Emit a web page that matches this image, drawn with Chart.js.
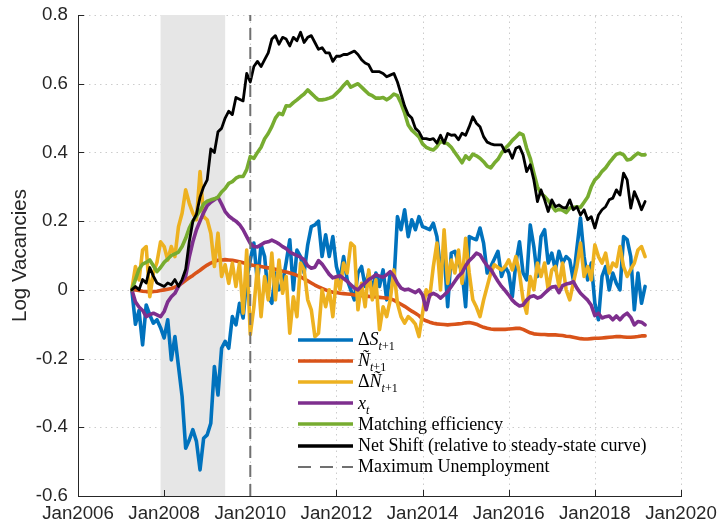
<!DOCTYPE html>
<html>
<head>
<meta charset="utf-8">
<script src="https://cdn.jsdelivr.net/npm/chart.js@4.4.1/dist/chart.umd.min.js"></script>
<style>
  body { margin: 0; background: #fff; }
  #wrap { position: relative; width: 717px; height: 529px; }
  #legend { position: absolute; left: 297px; top: 329px; font-family: 'Liberation Serif', serif; font-size: 18px; color: #000; }
  #legend .row { height: 21.2px; display: flex; align-items: center; white-space: nowrap; }
  #legend svg { width: 57px; height: 8px; margin-right: 4px; flex: none; }
  #legend sub { font-size: 12px; vertical-align: -5px; line-height: 0; }
</style>
</head>
<body>
<div id="wrap">
  <canvas id="grafico" width="717" height="529"></canvas>
  <div id="legend"></div>
</div>
<script>
// months counted from Jan 2006, series start Apr 2007
const firstMonth = 15;
const xTicks = [0, 24, 48, 72, 96, 120, 144, 168];
const yTicks = [-0.6, -0.4, -0.2, 0, 0.2, 0.4, 0.6, 0.8];
const recession = [23, 41];      // Dec 2007 - Jun 2009
const maxUnemployment = 48;      // Jan 2010

const deltaS = [
  0.0, -0.10, -0.06, -0.16, -0.044, -0.073, -0.097, -0.087, -0.11, -0.14,
  -0.087, -0.204, -0.136, -0.223, -0.31, -0.461, -0.437, -0.407, -0.441, -0.524,
  -0.432, -0.422, -0.388, -0.223, -0.306, -0.17, -0.15, -0.17, -0.078, -0.102,
  -0.039, -0.082, 0.029, 0.087, 0.136, 0.019, 0.131, 0.097, -0.02, -0.039,
  0.049, 0.0, 0.019, 0.08, 0.146, 0.0, 0.116, 0.097, 0.049, 0.131,
  0.184, 0.189, 0.2, 0.097, 0.16, 0.097, 0.155, 0.068, 0.029, 0.097,
  0.029, 0.0, -0.029, 0.049, 0.068, 0.01, 0.049, 0.0, 0.049, 0.01,
  0.058, -0.029, 0.049, 0.019, 0.213, 0.175, 0.233, 0.155, 0.204, 0.175,
  0.213, 0.184, 0.18, 0.175, 0.194, 0.155, 0.058, 0.107, -0.049, 0.107,
  0.112, 0.078, 0.053, -0.049, 0.155, 0.15, 0.146, 0.18, 0.136, 0.049,
  0.068, 0.09, 0.112, 0.039, 0.068, 0.049, -0.02, 0.078, 0.14, 0.049,
  0.029, 0.189, 0.126, 0.039, 0.155, 0.175, 0.078, 0.107, 0.058, 0.112,
  0.078, 0.097, 0.087, 0.029, 0.121, 0.209, 0.097, 0.029, 0.078, -0.039,
  -0.087, 0.039, 0.068, 0.0, 0.049, 0.019, 0.0, 0.155, 0.146, 0.097,
  -0.058, 0.049, -0.039, 0.01
];
const nTilde = [
  0.00, 0.00, -0.002, -0.004, -0.005, -0.005, -0.005, -0.004, -0.002, 0.00,
  0.002, 0.004, 0.008, 0.013, 0.02, 0.028, 0.035, 0.042, 0.05, 0.057,
  0.065, 0.072, 0.078, 0.083, 0.086, 0.087, 0.088, 0.087, 0.086, 0.084,
  0.082, 0.079, 0.076, 0.073, 0.071, 0.07, 0.068, 0.066, 0.064, 0.062,
  0.06, 0.057, 0.054, 0.052, 0.049, 0.046, 0.042, 0.038, 0.032, 0.026,
  0.02, 0.014, 0.009, 0.004, 0.00, -0.004, -0.007, -0.008, -0.01, -0.011,
  -0.012, -0.013, -0.015, -0.016, -0.017, -0.018, -0.019, -0.02, -0.021, -0.022,
  -0.023, -0.024, -0.026, -0.03, -0.036, -0.042, -0.048, -0.055, -0.062, -0.068,
  -0.075, -0.085, -0.09, -0.094, -0.097, -0.099, -0.1, -0.101, -0.102, -0.101,
  -0.1, -0.099, -0.098, -0.096, -0.095, -0.097, -0.1, -0.105, -0.109, -0.112,
  -0.114, -0.115, -0.115, -0.115, -0.115, -0.114, -0.113, -0.112, -0.112, -0.115,
  -0.12, -0.125, -0.128, -0.129, -0.13, -0.13, -0.131, -0.131, -0.131, -0.132,
  -0.133, -0.135, -0.136, -0.138, -0.14, -0.142, -0.143, -0.143, -0.142, -0.141,
  -0.141, -0.14, -0.139, -0.138, -0.137, -0.136, -0.136, -0.137, -0.138, -0.138,
  -0.137, -0.136, -0.134, -0.134
];
const deltaN = [
  0.0, 0.068, 0.029, 0.116, 0.126, -0.02, 0.049, 0.08, 0.14, 0.126,
  0.087, 0.126, 0.097, 0.184, 0.223, 0.291, 0.252, 0.223, 0.204, 0.344,
  0.213, 0.204, 0.165, 0.068, 0.165, 0.039, 0.073, 0.019, 0.078, 0.01,
  0.078, -0.068, 0.116, -0.13, -0.05, 0.068, -0.078, 0.039, -0.029, 0.107,
  -0.029, 0.087, -0.01, 0.039, -0.126, -0.02, -0.078, 0.078, 0.058, -0.029,
  -0.058, -0.136, -0.126, 0.0, -0.049, 0.0, -0.078, 0.039, 0.0, 0.078,
  0.049, 0.136, 0.126, -0.058, 0.019, -0.049, 0.058, -0.029, 0.029, -0.116,
  -0.049, -0.078, -0.029, 0.058, -0.039, -0.078, -0.097, -0.078, -0.087, -0.1,
  -0.136, -0.068, 0.0, -0.02, 0.068, 0.136, 0.0, 0.175, 0.019, 0.087,
  0.049, 0.116, 0.019, 0.15, 0.049, -0.029, -0.05, -0.078, -0.03, 0.01,
  0.049, 0.073, 0.065, 0.058, 0.068, 0.087, 0.058, 0.097, 0.049, -0.029,
  -0.068, 0.039, 0.0, 0.078, 0.039, 0.078, 0.0, 0.058, 0.068, 0.01,
  0.078, 0.0, -0.029, 0.02, 0.068, 0.136, 0.039, 0.068, 0.029, 0.131,
  0.097, 0.078, 0.107, 0.049, 0.078, 0.068, 0.126, 0.068, 0.039, 0.06,
  0.078, 0.116, 0.126, 0.097
];
const xt = [
  0.00, -0.035, -0.05, -0.06, -0.078, -0.072, -0.068, -0.073, -0.078, -0.063,
  -0.035, -0.02, -0.01, 0.01, 0.025, 0.04, 0.095, 0.14, 0.175, 0.20,
  0.225, 0.245, 0.255, 0.262, 0.27, 0.25, 0.228, 0.215, 0.207, 0.20,
  0.19, 0.175, 0.155, 0.135, 0.126, 0.125, 0.131, 0.138, 0.14, 0.145,
  0.14, 0.134, 0.126, 0.12, 0.11, 0.105, 0.1, 0.095, 0.088, 0.07,
  0.063, 0.066, 0.085, 0.075, 0.06, 0.045, 0.035, 0.038, 0.041, 0.033,
  0.025, 0.015, 0.005, 0.0, 0.012, 0.02, 0.03, 0.036, 0.044, 0.04,
  0.037, 0.044, 0.053, 0.04, 0.02, 0.005, 0.0, 0.002, -0.003, -0.008,
  0.0, -0.015, -0.058, -0.015, -0.01, -0.015, -0.024, -0.015, -0.005, 0.01,
  0.025, 0.04, 0.05, 0.07, 0.085, 0.095, 0.107, 0.102, 0.085, 0.07,
  0.06, 0.042, 0.025, 0.01, -0.002, -0.015, -0.03, -0.04, -0.047, -0.044,
  -0.03, -0.02, -0.017, -0.024, -0.02, -0.01, 0.0, 0.008, 0.01, -0.008,
  0.012, 0.017, 0.019, 0.024, 0.005, -0.01, -0.02, -0.03, -0.045, -0.075,
  -0.068, -0.082, -0.078, -0.076, -0.087, -0.076, -0.087, -0.075, -0.068, -0.08,
  -0.102, -0.092, -0.094, -0.102
];
const matchingEff = [
  0.00, 0.03, 0.06, 0.075, 0.08, 0.087, 0.07, 0.053, 0.065, 0.08,
  0.09, 0.10, 0.105, 0.11, 0.126, 0.15, 0.18, 0.20, 0.215, 0.23,
  0.25, 0.258, 0.262, 0.265, 0.27, 0.285, 0.295, 0.31, 0.315, 0.325,
  0.33, 0.33, 0.35, 0.388, 0.383, 0.40, 0.415, 0.44, 0.455, 0.475,
  0.50, 0.514, 0.51, 0.536, 0.535, 0.545, 0.553, 0.562, 0.57, 0.582,
  0.572, 0.562, 0.553, 0.553, 0.555, 0.558, 0.562, 0.572, 0.582, 0.595,
  0.606, 0.59, 0.595, 0.60, 0.59, 0.58, 0.57, 0.565, 0.558, 0.558,
  0.56, 0.553, 0.56, 0.57, 0.565, 0.543, 0.515, 0.48, 0.465, 0.455,
  0.445, 0.425, 0.415, 0.41, 0.407, 0.417, 0.432, 0.428, 0.425, 0.415,
  0.40, 0.385, 0.37, 0.39, 0.38, 0.395, 0.39, 0.383, 0.373, 0.36,
  0.355, 0.369, 0.38, 0.398, 0.412, 0.422, 0.435, 0.445, 0.456, 0.451,
  0.412, 0.383, 0.34, 0.30, 0.28, 0.272, 0.26, 0.245, 0.23, 0.235,
  0.232, 0.225, 0.238, 0.24, 0.242, 0.24, 0.255, 0.27, 0.30, 0.32,
  0.33, 0.345, 0.355, 0.37, 0.383, 0.395, 0.398, 0.393, 0.378, 0.38,
  0.39, 0.398, 0.393, 0.393
];
const netShift = [
  0.00, 0.01, 0.00, 0.03, 0.02, 0.065, 0.04, 0.02, 0.015, 0.01,
  0.02, 0.015, 0.03, 0.01, 0.03, 0.06, 0.14, 0.20, 0.22, 0.27,
  0.30, 0.32, 0.41, 0.40, 0.46, 0.47, 0.50, 0.52, 0.51, 0.56,
  0.555, 0.55, 0.63, 0.605, 0.65, 0.665, 0.65, 0.67, 0.69, 0.73,
  0.74, 0.715, 0.735, 0.73, 0.71, 0.735, 0.725, 0.75, 0.72, 0.735,
  0.74, 0.72, 0.70, 0.705, 0.69, 0.69, 0.665, 0.68, 0.68, 0.685,
  0.685, 0.69, 0.695, 0.685, 0.67, 0.66, 0.655, 0.635, 0.635, 0.635,
  0.63, 0.62, 0.625, 0.63, 0.605, 0.57, 0.535, 0.51, 0.50, 0.47,
  0.46, 0.44, 0.44, 0.437, 0.44, 0.427, 0.45, 0.427, 0.455, 0.45,
  0.451, 0.437, 0.456, 0.45, 0.475, 0.504, 0.485, 0.475, 0.446, 0.43,
  0.425, 0.422, 0.422, 0.422, 0.402, 0.407, 0.383, 0.412, 0.417, 0.393,
  0.344, 0.364, 0.32, 0.257, 0.291, 0.262, 0.228, 0.262, 0.242, 0.247,
  0.24, 0.238, 0.262, 0.233, 0.242, 0.218, 0.233, 0.204, 0.213, 0.18,
  0.218, 0.233, 0.242, 0.262, 0.267, 0.291, 0.276, 0.34, 0.32, 0.238,
  0.286, 0.262, 0.233, 0.257
];

const sansFont = "'Liberation Sans', Arial, sans-serif";
const axisColor = '#262626';

const toPoints = vals => vals.map((v, i) => ({ x: firstMonth + i, y: v }));

const series = [
  { name: 'Δ<i>S</i><sub><i>t</i>+1</sub>', data: deltaS, color: '#0072BD', width: 3.6, order: 6 },
  { name: '<i>Ñ</i><sub><i>t</i>+1</sub>', data: nTilde, color: '#D95319', width: 3.6, order: 5 },
  { name: 'Δ<i>Ñ</i><sub><i>t</i>+1</sub>', data: deltaN, color: '#EDB120', width: 3.6, order: 4 },
  { name: '<i>x</i><sub><i>t</i></sub>', data: xt, color: '#7E2F8E', width: 3.6, order: 3 },
  { name: 'Matching efficiency', data: matchingEff, color: '#77AC30', width: 3.6, order: 2 },
  { name: 'Net Shift (relative to steady-state curve)', data: netShift, color: '#000000', width: 2.8, order: 1 }
];

const datasets = series.map(s => ({
  label: s.name,
  data: toPoints(s.data),
  borderColor: s.color,
  borderWidth: s.width,
  order: s.order,
  pointRadius: 0,
  tension: 0,
  borderJoinStyle: 'round',
  borderCapStyle: 'round',
  fill: false
}));

datasets.push({
  label: 'Maximum Unemployment',
  data: [{ x: maxUnemployment, y: yTicks[0] }, { x: maxUnemployment, y: yTicks[yTicks.length - 1] }],
  borderColor: '#707070',
  borderWidth: 2,
  borderDash: [12, 7],
  order: 0,
  pointRadius: 0,
  fill: false
});

// dotted grid, recession band, inward tick marks
const fondo = {
  id: 'fondo',
  beforeDatasetsDraw(chart) {
    const { ctx, chartArea: a, scales: { x, y } } = chart;
    ctx.save();
    ctx.strokeStyle = 'rgba(0,0,0,0.2)';
    ctx.lineWidth = 1;
    ctx.setLineDash([1.5, 4]);
    xTicks.forEach(v => {
      const px = Math.round(x.getPixelForValue(v)) + 0.5;
      if (px < a.left + 2) return;
      ctx.beginPath(); ctx.moveTo(px, a.bottom); ctx.lineTo(px, a.top); ctx.stroke();
    });
    yTicks.forEach(v => {
      const py = Math.round(y.getPixelForValue(v)) + 0.5;
      if (py > a.bottom - 2) return;
      ctx.beginPath(); ctx.moveTo(a.left, py); ctx.lineTo(a.right, py); ctx.stroke();
    });
    ctx.setLineDash([]);

    const x0 = x.getPixelForValue(recession[0]);
    const x1 = x.getPixelForValue(recession[1]);
    ctx.fillStyle = '#e6e6e6';
    ctx.fillRect(x0, a.top, x1 - x0, a.bottom - a.top);

    ctx.strokeStyle = axisColor;
    xTicks.forEach(v => {
      const px = Math.round(x.getPixelForValue(v)) + 0.5;
      ctx.beginPath(); ctx.moveTo(px, a.bottom); ctx.lineTo(px, a.bottom - 6); ctx.stroke();
    });
    yTicks.forEach(v => {
      const py = Math.round(y.getPixelForValue(v)) + 0.5;
      ctx.beginPath(); ctx.moveTo(a.left, py); ctx.lineTo(a.left + 6, py); ctx.stroke();
    });
    ctx.restore();
  }
};

const ctx = document.getElementById('grafico').getContext('2d');
const chart = new Chart(ctx, {
  type: 'line',
  data: { datasets },
  options: {
    responsive: false,
    animation: false,
    devicePixelRatio: 1,
    layout: { padding: { top: 15, right: 36, left: 0, bottom: 0 } },
    plugins: { legend: { display: false }, tooltip: { enabled: false } },
    scales: {
      x: {
        type: 'linear',
        min: xTicks[0],
        max: xTicks[xTicks.length - 1],
        afterBuildTicks: s => { s.ticks = xTicks.map(v => ({ value: v })); },
        afterFit: s => { s.height = 33; s.paddingLeft = 0; s.paddingRight = 0; },
        ticks: {
          callback: v => 'Jan' + (2006 + v / 12),
          font: { family: sansFont, size: 18.7 },
          color: axisColor,
          padding: 7,
          maxRotation: 0,
          autoSkip: false
        },
        grid: { display: false, drawTicks: false },
        border: { display: true, color: axisColor, width: 1 }
      },
      y: {
        min: yTicks[0],
        max: yTicks[yTicks.length - 1],
        afterBuildTicks: s => { s.ticks = yTicks.map(v => ({ value: v })); },
        afterFit: s => { s.width = 78; s.paddingTop = 0; s.paddingBottom = 0; },
        ticks: {
          callback: v => String(Math.round(v * 10) / 10),
          font: { family: sansFont, size: 18.7 },
          color: axisColor,
          padding: 10
        },
        grid: { display: false, drawTicks: false },
        border: { display: true, color: axisColor, width: 1 },
        title: {
          display: true,
          text: 'Log Vacancies',
          font: { family: sansFont, size: 20.5 },
          color: axisColor,
          padding: { top: 8, bottom: 0 }
        }
      }
    }
  },
  plugins: [fondo]
});

// legend with sub-scripts, built from the datasets
const legend = document.getElementById('legend');
chart.data.datasets.forEach(ds => {
  const row = document.createElement('div');
  row.className = 'row';
  const dash = ds.borderDash ? `stroke-dasharray="13 9"` : '';
  row.innerHTML = `<svg viewBox="0 0 57 8"><line x1="1" y1="4" x2="56" y2="4" stroke="${ds.borderColor}" stroke-width="${ds.borderWidth === 2 ? 2 : 3.4}" ${dash}/></svg><span>${ds.label}</span>`;
  legend.appendChild(row);
});
</script>
</body>
</html>
